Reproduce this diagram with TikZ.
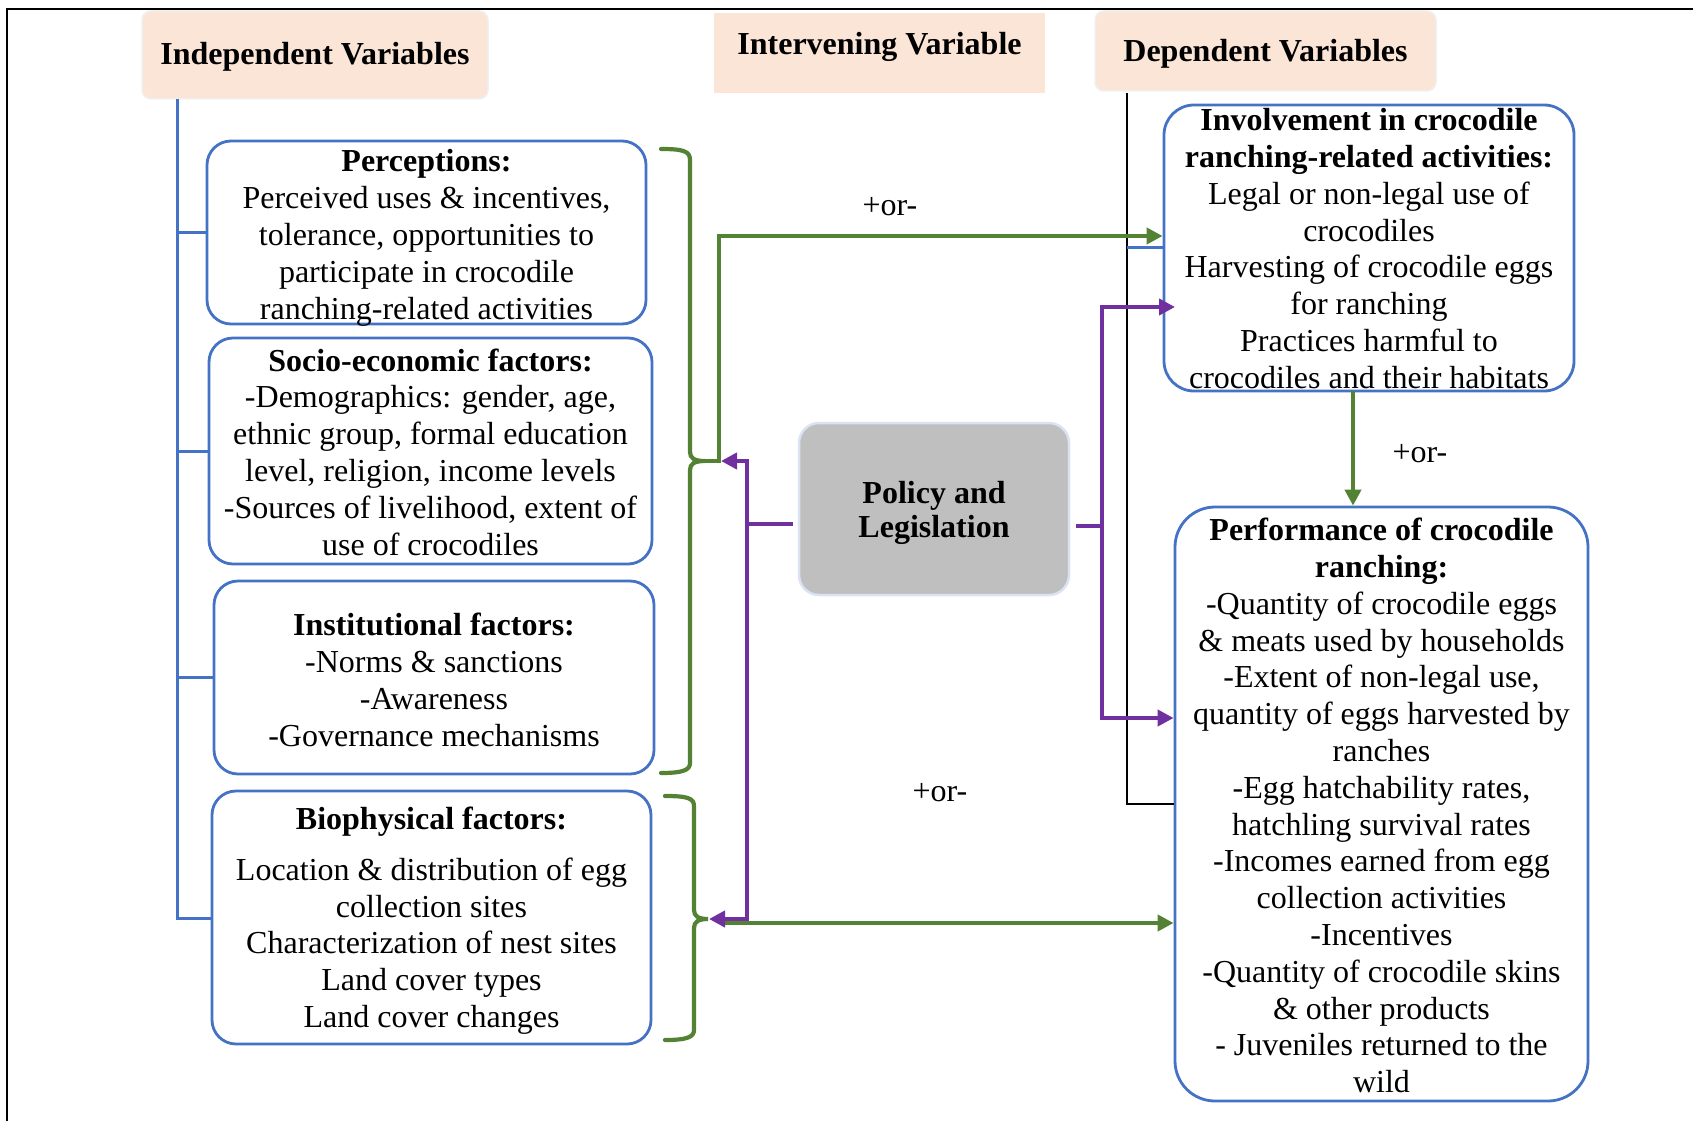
\documentclass[tikz,border=0pt]{standalone}
\usepackage{fontspec}
\setmainfont{Liberation Serif}
\usetikzlibrary{arrows.meta,calc}
\definecolor{bblue}{HTML}{4472C4}
\definecolor{ggreen}{HTML}{548235}
\definecolor{ppurple}{HTML}{7030A0}
\definecolor{peach}{HTML}{FBE5D6}
\definecolor{pgray}{HTML}{BFBFBF}
\definecolor{pedge}{HTML}{DAE3F3}
\tikzset{tri/.tip={Triangle[length=16pt,width=16pt]}}
\begin{document}
\begin{tikzpicture}[x=1pt,y=-1pt,
  txt/.style={font=\fontsize{32}{36.8}\selectfont, align=center, inner sep=0pt},
  btxt/.style={txt, font=\fontsize{32}{36.8}\selectfont\bfseries},
  vbox/.style={draw=bblue, line width=2.8pt, rounded corners=24pt, inner sep=0pt},
  hdr/.style={fill=peach, draw=black!6, line width=1.5pt, inner sep=0pt},
  gline/.style={draw=ggreen, line width=4.2pt},
  pline/.style={draw=ppurple, line width=4.2pt},
  brace/.style={draw=ggreen, line width=4.2pt, line cap=round},
  tree/.style={draw=bblue, line width=3pt},
  blk/.style={draw=black, line width=2.4pt},
]
\useasboundingbox (0,0) rectangle (1693,1121);
% frame
\draw[line width=2pt] (7,1121) -- (7,9) -- (1693,9);

% header boxes
\node[hdr, rounded corners=9pt, minimum width=346pt, minimum height=88pt] (hind) at (315,55) {};
\node[btxt] (hindt) at (315,56.5) {Independent Variables};
\node[hdr, draw=none, minimum width=331pt, minimum height=80pt] (hint) at (879.5,53) {};
\node[btxt] (hintt) at (879.5,46.5) {Intervening Variable};
\node[hdr, rounded corners=9pt, minimum width=341pt, minimum height=80pt] (hdep) at (1265.5,51) {};
\node[btxt] (hdept) at (1265.5,53.5) {Dependent Variables};

% independent variable boxes
\node[vbox, minimum width=439pt, minimum height=183pt] (perc) at (426.5,232.5) {};
\node[txt] (perct) at ($(perc.center)+(0,5.4)$)
 {\textbf{Perceptions:}\\Perceived uses \& incentives,\\tolerance, opportunities to\\participate in crocodile\\ranching-related activities};
\node[vbox, minimum width=443pt, minimum height=226pt] (socio) at (430.5,451) {};
\node[txt] (sociot) at ($(socio.center)+(0,1)$)
 {\textbf{Socio-economic factors:}\\-Demographics: gender, age,\\ethnic group, formal education\\level, religion, income levels\\-Sources of livelihood, extent of\\use of crocodiles};
\node[vbox, minimum width=440pt, minimum height=193pt] (inst) at (434,677.5) {};
\node[txt] (instt) at ($(inst.center)+(0,2.2)$)
 {\textbf{Institutional factors:}\\-Norms \& sanctions\\-Awareness\\-Governance mechanisms};
\node[vbox, minimum width=439pt, minimum height=253pt] (bio) at (431.5,917.5) {};
\node[txt] (biot) at ($(bio.center)+(0,3.2)$)
 {\textbf{Biophysical factors:}\\[14pt]Location \& distribution of egg\\collection sites\\Characterization of nest sites\\Land cover types\\Land cover changes};

% policy
\node[fill=pgray, draw=pedge, line width=2.5pt, rounded corners=20pt, inner sep=0pt,
  minimum width=270pt, minimum height=172pt] (pol) at (934,509) {};
\node[txt, font=\fontsize{32}{34}\selectfont\bfseries] (polt) at ($(pol.center)+(0,4.3)$) {Policy and\\Legislation};

% dependent boxes
\node[vbox, rounded corners=30pt, minimum width=410pt, minimum height=286pt] (invol) at (1369,248) {};
\node[txt] (involt) at ($(invol.center)+(0,0.5)$)
 {\textbf{Involvement in crocodile}\\\textbf{ranching-related activities:}\\Legal or non-legal use of\\crocodiles\\Harvesting of crocodile eggs\\for ranching\\Practices harmful to\\crocodiles and their habitats};
\node[vbox, rounded corners=40pt, minimum width=413pt, minimum height=594pt] (perf) at (1381.5,804) {};
\node[txt] (perft) at ($(perf.center)+(0,1.5)$)
 {\textbf{Performance of crocodile}\\\textbf{ranching:}\\-Quantity of crocodile eggs\\\& meats used by households\\-Extent of non-legal use,\\quantity of eggs harvested by\\ranches\\-Egg hatchability rates,\\hatchling survival rates\\-Incomes earned from egg\\collection activities\\-Incentives\\-Quantity of crocodile skins\\\& other products\\- Juveniles returned to the\\wild};

% left blue tree
\coordinate (t0) at (177,99);
\coordinate (t1) at (177,918);
\draw[tree] (t0) -- (t1) -- (bio.west |- t1);
\draw[tree] (perc.west -| t0) -- (perc.west);
\draw[tree] (socio.west -| t0) -- (socio.west);
\draw[tree] (inst.west -| t0) -- (inst.west);

% black line on right
\coordinate (k0) at (1127,93);
\coordinate (k1) at (1127,804);
\draw[blk] (k0) -- (k1) -- (k1 -| perf.west);
\coordinate (k2) at (1127,247);
\draw[draw=bblue, line width=3pt] (k2) -- (k2 -| invol.west);

% braces
\coordinate (b1tip) at (705,461);
\coordinate (b2tip) at (708,919);
\draw[brace] (661,149) .. controls (683,149) and (690,151) .. (690,160) -- (690,452)
  .. controls (690,458) and (694,461) .. (b1tip)
  .. controls (694,461) and (690,464) .. (690,470) -- (690,763)
  .. controls (690,770) and (683,773) .. (661,773);
\draw[brace] (665,796) .. controls (687,796) and (694,798) .. (694,806) -- (694,910)
  .. controls (694,916) and (698,919) .. (b2tip)
  .. controls (698,919) and (694,922) .. (694,928) -- (694,1030)
  .. controls (694,1037) and (687,1040) .. (665,1040);

% green arrows
\coordinate (g1) at (719,461);
\coordinate (g2) at (719,236);
\draw[gline, -tri] (b1tip) -- (g1) -- (g2) -- (g2 -| invol.west);
\coordinate (g3) at (725,923);
\draw[gline, -tri] (g3) -- (g3 -| perf.west);
\coordinate (g4) at (1353,391);
\draw[gline, -tri] (g4) -- (g4 |- perf.north);

% purple left
\coordinate (pl1) at (747,461);
\coordinate (pl2) at (747,919);
\coordinate (pls) at (793,524);
\coordinate (pla) at (721,461);
\coordinate (plb) at (709,919);
\draw[pline] (pls) -- (pls -| pl1);
\draw[pline, tri-tri] (pla) -- (pl1) -- (pl2) -- (plb);

% purple right
\coordinate (pr1) at (1102,307);
\coordinate (pr2) at (1102,718);
\coordinate (prs) at (1076,526);
\coordinate (pra) at (1175,307);
\draw[pline] (prs) -- (prs -| pr1);
\draw[pline, tri-tri] (pra) -- (pr1) -- (pr2) -- (pr2 -| perf.west);

% labels
\node[txt] (l1) at (890,207) {+or-};
\node[txt] (l2) at (940,793) {+or-};
\node[txt] (l3) at (1420,454) {+or-};
\end{tikzpicture}
\end{document}
